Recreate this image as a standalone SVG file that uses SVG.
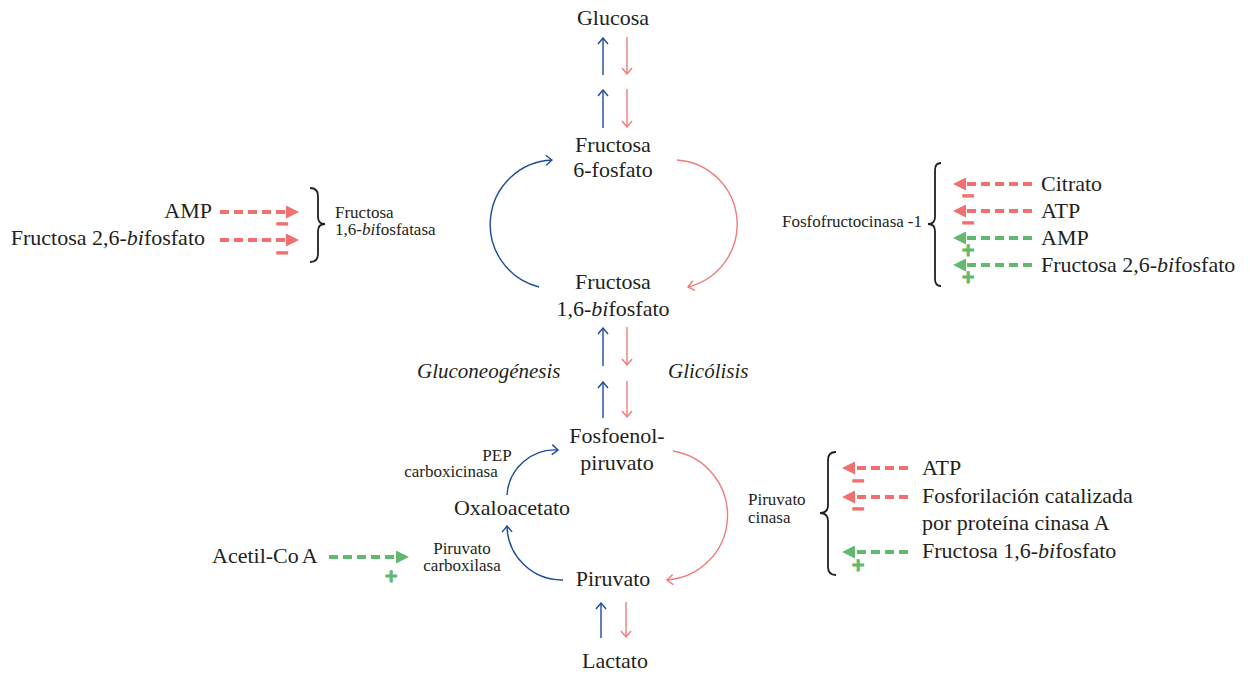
<svg xmlns="http://www.w3.org/2000/svg" width="1250" height="675" viewBox="0 0 1250 675">
<defs>
<style>
text{font-family:"Liberation Serif","Times New Roman",serif;fill:#231f20}
.m{font-size:22px}
.s{font-size:17px}
.it{font-size:21px;font-style:italic}
.c{text-anchor:middle}
.e{text-anchor:end}
.b{stroke:#1d4a9c;stroke-width:1.4;fill:none}
.r{stroke:#f07b7b;stroke-width:1.4;fill:none}
.dr{stroke:#f07070;stroke-width:3.8;stroke-dasharray:9 5;fill:none}
.dg{stroke:#62b96e;stroke-width:3.8;stroke-dasharray:9 5;fill:none}
.br{stroke:#231f20;stroke-width:1.8;fill:none}
.sg{font-family:"DejaVu Sans",sans-serif;font-weight:bold;font-size:17px;text-anchor:middle;stroke-width:1.1}
.sr{fill:#f07070;stroke:#f07070}
.sgg{fill:#62b96e;stroke:#62b96e}
</style>
<marker id="ab" viewBox="0 0 8 12" markerWidth="8" markerHeight="12" refX="7" refY="6" orient="auto" markerUnits="userSpaceOnUse"><path d="M1,1 L7,6 L1,11" fill="none" stroke="#1d4a9c" stroke-width="1.4"/></marker>
<marker id="ar" viewBox="0 0 8 12" markerWidth="8" markerHeight="12" refX="7" refY="6" orient="auto" markerUnits="userSpaceOnUse"><path d="M1,1 L7,6 L1,11" fill="none" stroke="#f07b7b" stroke-width="1.4"/></marker>
<marker id="fr" viewBox="0 0 13 13" markerWidth="13" markerHeight="13" refX="0" refY="6.5" orient="auto" markerUnits="userSpaceOnUse"><path d="M0,0 L13,6.5 L0,13 Z" fill="#f07070"/></marker>
<marker id="fg" viewBox="0 0 13 13" markerWidth="13" markerHeight="13" refX="0" refY="6.5" orient="auto" markerUnits="userSpaceOnUse"><path d="M0,0 L13,6.5 L0,13 Z" fill="#62b96e"/></marker>
</defs>

<g id="connectors">
<path class="b" d="M603,75 L603,38" marker-end="url(#ab)"/>
<path class="r" d="M627,37 L627,74" marker-end="url(#ar)"/>
<path class="b" d="M603,128 L603,90" marker-end="url(#ab)"/>
<path class="r" d="M627,89 L627,127" marker-end="url(#ar)"/>
<path class="b" d="M539,287 A64.5,64.5 0 0 1 552,160" marker-end="url(#ab)"/>
<path class="r" d="M677,160 A64.5,64.5 0 0 1 688,287" marker-end="url(#ar)"/>
<path class="b" d="M603,366 L603,328" marker-end="url(#ab)"/>
<path class="r" d="M627,327 L627,365" marker-end="url(#ar)"/>
<path class="b" d="M603,418 L603,382" marker-end="url(#ab)"/>
<path class="r" d="M627,381 L627,417" marker-end="url(#ar)"/>
<path class="b" d="M507,495 A48,48 0 0 1 558,450" marker-end="url(#ab)"/>
<path class="b" d="M563,580 A55,55 0 0 1 507,526" marker-end="url(#ab)"/>
<path class="r" d="M673,451 A65,65 0 0 1 667,580" marker-end="url(#ar)"/>
<path class="b" d="M601,638 L601,603" marker-end="url(#ab)"/>
<path class="r" d="M626,602 L626,637" marker-end="url(#ar)"/>
<path class="dr" d="M220,212 L286,212" marker-end="url(#fr)"/>
<path class="dr" d="M220,240 L286,240" marker-end="url(#fr)"/>
<path class="dr" d="M1032,184 L966,184" marker-end="url(#fr)"/>
<path class="dr" d="M1032,211 L966,211" marker-end="url(#fr)"/>
<path class="dg" d="M1032,238 L966,238" marker-end="url(#fg)"/>
<path class="dg" d="M1032,265 L966,265" marker-end="url(#fg)"/>
<path class="dr" d="M908,468 L855,468" marker-end="url(#fr)"/>
<path class="dr" d="M908,497 L855,497" marker-end="url(#fr)"/>
<path class="dg" d="M908,552 L855,552" marker-end="url(#fg)"/>
<path class="dg" d="M329,557 L396,557" marker-end="url(#fg)"/>
</g>

<g id="signs">
<text class="sg sr" x="282" y="229">−</text>
<text class="sg sr" x="282" y="258">−</text>
<text class="sg sr" x="968" y="201">−</text>
<text class="sg sr" x="968" y="228">−</text>
<text class="sg sgg" x="968" y="256">+</text>
<text class="sg sgg" x="968" y="283">+</text>
<text class="sg sr" x="858" y="486">−</text>
<text class="sg sr" x="858" y="514">−</text>
<text class="sg sgg" x="858" y="571">+</text>
<text class="sg sgg" x="391" y="582">+</text>
</g>

<g id="braces">
<path class="br" d="M310,188 Q318,188 318,196 L318,217 Q318,224 325,224 Q318,224 318,231 L318,254 Q318,262 310,262"/>
<path class="br" d="M941,163 Q935,163 935,170 L935,217 Q935,224 928,224 Q935,224 935,231 L935,279 Q935,286 941,286"/>
<path class="br" d="M836,452 Q828,452 828,460 L828,505 Q828,513 820,513 Q828,513 828,521 L828,567 Q828,575 836,575"/>
</g>

<g id="glucosa"><text class="m c" x="613" y="25">Glucosa</text></g>
<g id="f6p"><text class="m c" x="613" y="152">Fructosa</text><text class="m c" x="613" y="177">6-fosfato</text></g>
<g id="f16bp"><text class="m c" x="613" y="289">Fructosa</text><text class="m c" x="613" y="316">1,6-<tspan font-style="italic">bi</tspan>fosfato</text></g>
<g id="pep"><text class="m c" x="617" y="443">Fosfoenol-</text><text class="m c" x="617" y="470">piruvato</text></g>
<g id="oxaloacetato"><text class="m c" x="512" y="515">Oxaloacetato</text></g>
<g id="piruvato"><text class="m c" x="613" y="586">Piruvato</text></g>
<g id="lactato"><text class="m c" x="615" y="668">Lactato</text></g>

<g id="labels">
<text class="it" x="417" y="378">Gluconeogénesis</text>
<text class="it" x="668" y="378">Glicólisis</text>
<text class="s c" x="497" y="461">PEP</text>
<text class="s c" x="451" y="477">carboxicinasa</text>
<text class="s c" x="462" y="554">Piruvato</text>
<text class="s c" x="462" y="571">carboxilasa</text>
<text class="s" x="748" y="505">Piruvato</text>
<text class="s" x="748" y="523">cinasa</text>
<text class="s" x="782" y="227">Fosfofructocinasa<tspan dx="4">-1</tspan></text>
<text class="s" x="335" y="218">Fructosa</text>
<text class="s" x="335" y="235">1,6-<tspan font-style="italic">bi</tspan>fosfatasa</text>
</g>

<g id="effectors-fbpasa">
<text class="m e" x="212" y="218">AMP</text>
<text class="m e" x="205" y="245">Fructosa 2,6-<tspan font-style="italic">bi</tspan>fosfato</text>
</g>
<g id="effectors-pfk">
<text class="m" x="1041" y="191">Citrato</text>
<text class="m" x="1041" y="218">ATP</text>
<text class="m" x="1041" y="245">AMP</text>
<text class="m" x="1041" y="272">Fructosa 2,6-<tspan font-style="italic">bi</tspan>fosfato</text>
</g>
<g id="effectors-pk">
<text class="m" x="922" y="475">ATP</text>
<text class="m" x="922" y="503">Fosforilación catalizada</text>
<text class="m" x="922" y="530">por proteína cinasa A</text>
<text class="m" x="922" y="558">Fructosa 1,6-<tspan font-style="italic">bi</tspan>fosfato</text>
</g>
<g id="acetilcoa"><text class="m" x="212" y="563">Acetil-Co<tspan dx="3">A</tspan></text></g>
</svg>
